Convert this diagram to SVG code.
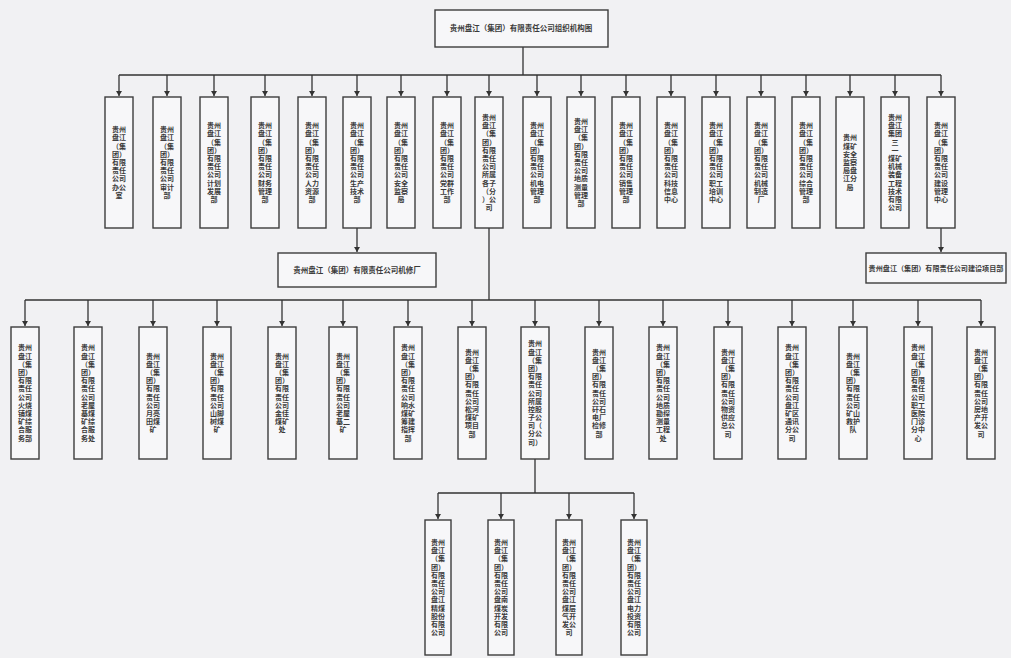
<svg xmlns="http://www.w3.org/2000/svg" width="1011" height="658" viewBox="0 0 1011 658">
<style>
.b{fill:#f7f7f9;stroke:#3c3c3c;stroke-width:1.4}
.v{font-family:"Noto Sans CJK SC","Noto Sans",sans-serif;font-size:7px;font-weight:bold;fill:#3a3a3a;text-anchor:middle}
.h{font-family:"Noto Sans CJK SC","Noto Sans",sans-serif;font-size:7.5px;font-weight:bold;fill:#3a3a3a;text-anchor:middle}
.c{fill:none;stroke:#333;stroke-width:1.3}
</style>
<defs>
<marker id="ah" markerWidth="6" markerHeight="6" refX="5" refY="3" orient="auto" markerUnits="userSpaceOnUse">
<path d="M0,0 L5,3 L0,6 z" fill="#333"/>
</marker>
</defs>
<rect width="1011" height="658" fill="#f1f1f3"/>

<g id="connectors">
<path class="c" d="M523,47 V75 M119,75 H941"/>
<path class="c" marker-end="url(#ah)" d="M119,75 V96"/>
<path class="c" marker-end="url(#ah)" d="M167,75 V96"/>
<path class="c" marker-end="url(#ah)" d="M214,75 V96"/>
<path class="c" marker-end="url(#ah)" d="M265,75 V96"/>
<path class="c" marker-end="url(#ah)" d="M312,75 V96"/>
<path class="c" marker-end="url(#ah)" d="M357,75 V96"/>
<path class="c" marker-end="url(#ah)" d="M401,75 V96"/>
<path class="c" marker-end="url(#ah)" d="M447,75 V96"/>
<path class="c" marker-end="url(#ah)" d="M489,75 V96"/>
<path class="c" marker-end="url(#ah)" d="M537,75 V96"/>
<path class="c" marker-end="url(#ah)" d="M581,75 V96"/>
<path class="c" marker-end="url(#ah)" d="M626,75 V96"/>
<path class="c" marker-end="url(#ah)" d="M671,75 V96"/>
<path class="c" marker-end="url(#ah)" d="M716,75 V96"/>
<path class="c" marker-end="url(#ah)" d="M761,75 V96"/>
<path class="c" marker-end="url(#ah)" d="M806,75 V96"/>
<path class="c" marker-end="url(#ah)" d="M850,75 V96"/>
<path class="c" marker-end="url(#ah)" d="M895,75 V96"/>
<path class="c" marker-end="url(#ah)" d="M941,75 V96"/>
<path class="c" marker-end="url(#ah)" d="M357,228 V252"/>
<path class="c" marker-end="url(#ah)" d="M941,228 V252"/>
<path class="c" d="M489,228 V300 M25,300 H981"/>
<path class="c" marker-end="url(#ah)" d="M25,300 V326"/>
<path class="c" marker-end="url(#ah)" d="M88,300 V326"/>
<path class="c" marker-end="url(#ah)" d="M153,300 V326"/>
<path class="c" marker-end="url(#ah)" d="M217,300 V326"/>
<path class="c" marker-end="url(#ah)" d="M282,300 V326"/>
<path class="c" marker-end="url(#ah)" d="M343,300 V326"/>
<path class="c" marker-end="url(#ah)" d="M408,300 V326"/>
<path class="c" marker-end="url(#ah)" d="M472,300 V326"/>
<path class="c" marker-end="url(#ah)" d="M535,300 V326"/>
<path class="c" marker-end="url(#ah)" d="M599,300 V326"/>
<path class="c" marker-end="url(#ah)" d="M663,300 V326"/>
<path class="c" marker-end="url(#ah)" d="M728,300 V326"/>
<path class="c" marker-end="url(#ah)" d="M792,300 V326"/>
<path class="c" marker-end="url(#ah)" d="M853,300 V326"/>
<path class="c" marker-end="url(#ah)" d="M918,300 V326"/>
<path class="c" marker-end="url(#ah)" d="M981,300 V326"/>
<path class="c" d="M535,459 V493 M438,493 H634"/>
<path class="c" marker-end="url(#ah)" d="M438,493 V519"/>
<path class="c" marker-end="url(#ah)" d="M501,493 V519"/>
<path class="c" marker-end="url(#ah)" d="M569,493 V519"/>
<path class="c" marker-end="url(#ah)" d="M634,493 V519"/>
</g>

<g id="n-top"><rect class="b" x="435" y="10" width="173" height="37"/><text class="h" x="521" y="31">贵州盘江（集团）有限责任公司组织机构图</text></g>

<g id="t1"><rect class="b" x="105" y="97" width="28" height="131"/><text class="v" y="132.2"><tspan x="119">贵州</tspan><tspan x="119" dy="8.2">盘江</tspan><tspan x="119" dy="8.2">（集</tspan><tspan x="119" dy="8.2">团）</tspan><tspan x="119" dy="8.2">有限</tspan><tspan x="119" dy="8.2">责任</tspan><tspan x="119" dy="8.2">公司</tspan><tspan x="119" dy="8.2">办公</tspan><tspan x="119" dy="8.2">室</tspan></text></g>
<g id="t2"><rect class="b" x="153" y="97" width="28" height="131"/><text class="v" y="132.2"><tspan x="167">贵州</tspan><tspan x="167" dy="8.2">盘江</tspan><tspan x="167" dy="8.2">（集</tspan><tspan x="167" dy="8.2">团）</tspan><tspan x="167" dy="8.2">有限</tspan><tspan x="167" dy="8.2">责任</tspan><tspan x="167" dy="8.2">公司</tspan><tspan x="167" dy="8.2">审计</tspan><tspan x="167" dy="8.2">部</tspan></text></g>
<g id="t3"><rect class="b" x="200" y="97" width="28" height="131"/><text class="v" y="128.1"><tspan x="214">贵州</tspan><tspan x="214" dy="8.2">盘江</tspan><tspan x="214" dy="8.2">（集</tspan><tspan x="214" dy="8.2">团）</tspan><tspan x="214" dy="8.2">有限</tspan><tspan x="214" dy="8.2">责任</tspan><tspan x="214" dy="8.2">公司</tspan><tspan x="214" dy="8.2">计划</tspan><tspan x="214" dy="8.2">发展</tspan><tspan x="214" dy="8.2">部</tspan></text></g>
<g id="t4"><rect class="b" x="251" y="97" width="28" height="131"/><text class="v" y="128.1"><tspan x="265">贵州</tspan><tspan x="265" dy="8.2">盘江</tspan><tspan x="265" dy="8.2">（集</tspan><tspan x="265" dy="8.2">团）</tspan><tspan x="265" dy="8.2">有限</tspan><tspan x="265" dy="8.2">责任</tspan><tspan x="265" dy="8.2">公司</tspan><tspan x="265" dy="8.2">财务</tspan><tspan x="265" dy="8.2">管理</tspan><tspan x="265" dy="8.2">部</tspan></text></g>
<g id="t5"><rect class="b" x="298" y="97" width="28" height="131"/><text class="v" y="128.1"><tspan x="312">贵州</tspan><tspan x="312" dy="8.2">盘江</tspan><tspan x="312" dy="8.2">（集</tspan><tspan x="312" dy="8.2">团）</tspan><tspan x="312" dy="8.2">有限</tspan><tspan x="312" dy="8.2">责任</tspan><tspan x="312" dy="8.2">公司</tspan><tspan x="312" dy="8.2">人力</tspan><tspan x="312" dy="8.2">资源</tspan><tspan x="312" dy="8.2">部</tspan></text></g>
<g id="t6"><rect class="b" x="343" y="97" width="28" height="131"/><text class="v" y="128.1"><tspan x="357">贵州</tspan><tspan x="357" dy="8.2">盘江</tspan><tspan x="357" dy="8.2">（集</tspan><tspan x="357" dy="8.2">团）</tspan><tspan x="357" dy="8.2">有限</tspan><tspan x="357" dy="8.2">责任</tspan><tspan x="357" dy="8.2">公司</tspan><tspan x="357" dy="8.2">生产</tspan><tspan x="357" dy="8.2">技术</tspan><tspan x="357" dy="8.2">部</tspan></text></g>
<g id="t7"><rect class="b" x="387" y="97" width="28" height="131"/><text class="v" y="128.1"><tspan x="401">贵州</tspan><tspan x="401" dy="8.2">盘江</tspan><tspan x="401" dy="8.2">（集</tspan><tspan x="401" dy="8.2">团）</tspan><tspan x="401" dy="8.2">有限</tspan><tspan x="401" dy="8.2">责任</tspan><tspan x="401" dy="8.2">公司</tspan><tspan x="401" dy="8.2">安全</tspan><tspan x="401" dy="8.2">监察</tspan><tspan x="401" dy="8.2">局</tspan></text></g>
<g id="t8"><rect class="b" x="433" y="97" width="28" height="131"/><text class="v" y="128.1"><tspan x="447">贵州</tspan><tspan x="447" dy="8.2">盘江</tspan><tspan x="447" dy="8.2">（集</tspan><tspan x="447" dy="8.2">团）</tspan><tspan x="447" dy="8.2">有限</tspan><tspan x="447" dy="8.2">责任</tspan><tspan x="447" dy="8.2">公司</tspan><tspan x="447" dy="8.2">党群</tspan><tspan x="447" dy="8.2">工作</tspan><tspan x="447" dy="8.2">部</tspan></text></g>
<g id="t9"><rect class="b" x="475" y="97" width="28" height="131"/><text class="v" y="119.9"><tspan x="489">贵州</tspan><tspan x="489" dy="8.2">盘江</tspan><tspan x="489" dy="8.2">（集</tspan><tspan x="489" dy="8.2">团）</tspan><tspan x="489" dy="8.2">有限</tspan><tspan x="489" dy="8.2">责任</tspan><tspan x="489" dy="8.2">公司</tspan><tspan x="489" dy="8.2">所属</tspan><tspan x="489" dy="8.2">各子</tspan><tspan x="489" dy="8.2">（分</tspan><tspan x="489" dy="8.2">）公</tspan><tspan x="489" dy="8.2">司</tspan></text></g>
<g id="t10"><rect class="b" x="523" y="97" width="28" height="131"/><text class="v" y="128.1"><tspan x="537">贵州</tspan><tspan x="537" dy="8.2">盘江</tspan><tspan x="537" dy="8.2">（集</tspan><tspan x="537" dy="8.2">团）</tspan><tspan x="537" dy="8.2">有限</tspan><tspan x="537" dy="8.2">责任</tspan><tspan x="537" dy="8.2">公司</tspan><tspan x="537" dy="8.2">机电</tspan><tspan x="537" dy="8.2">管理</tspan><tspan x="537" dy="8.2">部</tspan></text></g>
<g id="t11"><rect class="b" x="567" y="97" width="28" height="131"/><text class="v" y="124"><tspan x="581">贵州</tspan><tspan x="581" dy="8.2">盘江</tspan><tspan x="581" dy="8.2">（集</tspan><tspan x="581" dy="8.2">团）</tspan><tspan x="581" dy="8.2">有限</tspan><tspan x="581" dy="8.2">责任</tspan><tspan x="581" dy="8.2">公司</tspan><tspan x="581" dy="8.2">地质</tspan><tspan x="581" dy="8.2">测量</tspan><tspan x="581" dy="8.2">管理</tspan><tspan x="581" dy="8.2">部</tspan></text></g>
<g id="t12"><rect class="b" x="612" y="97" width="28" height="131"/><text class="v" y="128.1"><tspan x="626">贵州</tspan><tspan x="626" dy="8.2">盘江</tspan><tspan x="626" dy="8.2">（集</tspan><tspan x="626" dy="8.2">团）</tspan><tspan x="626" dy="8.2">有限</tspan><tspan x="626" dy="8.2">责任</tspan><tspan x="626" dy="8.2">公司</tspan><tspan x="626" dy="8.2">销售</tspan><tspan x="626" dy="8.2">管理</tspan><tspan x="626" dy="8.2">部</tspan></text></g>
<g id="t13"><rect class="b" x="657" y="97" width="28" height="131"/><text class="v" y="128.1"><tspan x="671">贵州</tspan><tspan x="671" dy="8.2">盘江</tspan><tspan x="671" dy="8.2">（集</tspan><tspan x="671" dy="8.2">团）</tspan><tspan x="671" dy="8.2">有限</tspan><tspan x="671" dy="8.2">责任</tspan><tspan x="671" dy="8.2">公司</tspan><tspan x="671" dy="8.2">科技</tspan><tspan x="671" dy="8.2">信息</tspan><tspan x="671" dy="8.2">中心</tspan></text></g>
<g id="t14"><rect class="b" x="702" y="97" width="28" height="131"/><text class="v" y="128.1"><tspan x="716">贵州</tspan><tspan x="716" dy="8.2">盘江</tspan><tspan x="716" dy="8.2">（集</tspan><tspan x="716" dy="8.2">团）</tspan><tspan x="716" dy="8.2">有限</tspan><tspan x="716" dy="8.2">责任</tspan><tspan x="716" dy="8.2">公司</tspan><tspan x="716" dy="8.2">职工</tspan><tspan x="716" dy="8.2">培训</tspan><tspan x="716" dy="8.2">中心</tspan></text></g>
<g id="t15"><rect class="b" x="747" y="97" width="28" height="131"/><text class="v" y="128.1"><tspan x="761">贵州</tspan><tspan x="761" dy="8.2">盘江</tspan><tspan x="761" dy="8.2">（集</tspan><tspan x="761" dy="8.2">团）</tspan><tspan x="761" dy="8.2">有限</tspan><tspan x="761" dy="8.2">责任</tspan><tspan x="761" dy="8.2">公司</tspan><tspan x="761" dy="8.2">机械</tspan><tspan x="761" dy="8.2">制造</tspan><tspan x="761" dy="8.2">厂</tspan></text></g>
<g id="t16"><rect class="b" x="792" y="97" width="28" height="131"/><text class="v" y="128.1"><tspan x="806">贵州</tspan><tspan x="806" dy="8.2">盘江</tspan><tspan x="806" dy="8.2">（集</tspan><tspan x="806" dy="8.2">团）</tspan><tspan x="806" dy="8.2">有限</tspan><tspan x="806" dy="8.2">责任</tspan><tspan x="806" dy="8.2">公司</tspan><tspan x="806" dy="8.2">综合</tspan><tspan x="806" dy="8.2">管理</tspan><tspan x="806" dy="8.2">部</tspan></text></g>
<g id="t17"><rect class="b" x="836" y="97" width="28" height="131"/><text class="v" y="140.4"><tspan x="850">贵州</tspan><tspan x="850" dy="8.2">煤矿</tspan><tspan x="850" dy="8.2">安全</tspan><tspan x="850" dy="8.2">监察</tspan><tspan x="850" dy="8.2">局盘</tspan><tspan x="850" dy="8.2">江分</tspan><tspan x="850" dy="8.2">局</tspan></text></g>
<g id="t18"><rect class="b" x="881" y="97" width="28" height="131"/><text class="v" y="119.9"><tspan x="895">贵州</tspan><tspan x="895" dy="8.2">盘江</tspan><tspan x="895" dy="8.2">集团</tspan><tspan x="895" dy="8.2">三</tspan><tspan x="895" dy="8.2">一</tspan><tspan x="895" dy="8.2">煤矿</tspan><tspan x="895" dy="8.2">机械</tspan><tspan x="895" dy="8.2">装备</tspan><tspan x="895" dy="8.2">工程</tspan><tspan x="895" dy="8.2">技术</tspan><tspan x="895" dy="8.2">有限</tspan><tspan x="895" dy="8.2">公司</tspan></text></g>
<g id="t19"><rect class="b" x="927" y="97" width="28" height="131"/><text class="v" y="128.1"><tspan x="941">贵州</tspan><tspan x="941" dy="8.2">盘江</tspan><tspan x="941" dy="8.2">（集</tspan><tspan x="941" dy="8.2">团）</tspan><tspan x="941" dy="8.2">有限</tspan><tspan x="941" dy="8.2">责任</tspan><tspan x="941" dy="8.2">公司</tspan><tspan x="941" dy="8.2">建设</tspan><tspan x="941" dy="8.2">管理</tspan><tspan x="941" dy="8.2">中心</tspan></text></g>

<g id="sub-a"><rect class="b" x="278" y="253" width="158" height="34"/><text class="h" x="357" y="273">贵州盘江（集团）有限责任公司机修厂</text></g>
<g id="sub-b"><rect class="b" x="866" y="253" width="140" height="30"/><text class="h" x="936" y="271" style="font-size:7.1px">贵州盘江（集团）有限责任公司建设项目部</text></g>

<g id="s1"><rect class="b" x="11" y="327" width="28" height="132"/><text class="v" y="350.4"><tspan x="25">贵州</tspan><tspan x="25" dy="8.2">盘江</tspan><tspan x="25" dy="8.2">（集</tspan><tspan x="25" dy="8.2">团）</tspan><tspan x="25" dy="8.2">有限</tspan><tspan x="25" dy="8.2">责任</tspan><tspan x="25" dy="8.2">公司</tspan><tspan x="25" dy="8.2">火烧</tspan><tspan x="25" dy="8.2">铺煤</tspan><tspan x="25" dy="8.2">矿综</tspan><tspan x="25" dy="8.2">合服</tspan><tspan x="25" dy="8.2">务部</tspan></text></g>
<g id="s2"><rect class="b" x="74" y="327" width="28" height="132"/><text class="v" y="350.4"><tspan x="88">贵州</tspan><tspan x="88" dy="8.2">盘江</tspan><tspan x="88" dy="8.2">（集</tspan><tspan x="88" dy="8.2">团）</tspan><tspan x="88" dy="8.2">有限</tspan><tspan x="88" dy="8.2">责任</tspan><tspan x="88" dy="8.2">公司</tspan><tspan x="88" dy="8.2">老屋</tspan><tspan x="88" dy="8.2">基煤</tspan><tspan x="88" dy="8.2">矿综</tspan><tspan x="88" dy="8.2">合服</tspan><tspan x="88" dy="8.2">务处</tspan></text></g>
<g id="s3"><rect class="b" x="139" y="327" width="28" height="132"/><text class="v" y="358.6"><tspan x="153">贵州</tspan><tspan x="153" dy="8.2">盘江</tspan><tspan x="153" dy="8.2">（集</tspan><tspan x="153" dy="8.2">团）</tspan><tspan x="153" dy="8.2">有限</tspan><tspan x="153" dy="8.2">责任</tspan><tspan x="153" dy="8.2">公司</tspan><tspan x="153" dy="8.2">月亮</tspan><tspan x="153" dy="8.2">田煤</tspan><tspan x="153" dy="8.2">矿</tspan></text></g>
<g id="s4"><rect class="b" x="203" y="327" width="28" height="132"/><text class="v" y="358.6"><tspan x="217">贵州</tspan><tspan x="217" dy="8.2">盘江</tspan><tspan x="217" dy="8.2">（集</tspan><tspan x="217" dy="8.2">团）</tspan><tspan x="217" dy="8.2">有限</tspan><tspan x="217" dy="8.2">责任</tspan><tspan x="217" dy="8.2">公司</tspan><tspan x="217" dy="8.2">山脚</tspan><tspan x="217" dy="8.2">树煤</tspan><tspan x="217" dy="8.2">矿</tspan></text></g>
<g id="s5"><rect class="b" x="268" y="327" width="28" height="132"/><text class="v" y="358.6"><tspan x="282">贵州</tspan><tspan x="282" dy="8.2">盘江</tspan><tspan x="282" dy="8.2">（集</tspan><tspan x="282" dy="8.2">团）</tspan><tspan x="282" dy="8.2">有限</tspan><tspan x="282" dy="8.2">责任</tspan><tspan x="282" dy="8.2">公司</tspan><tspan x="282" dy="8.2">金佳</tspan><tspan x="282" dy="8.2">煤矿</tspan><tspan x="282" dy="8.2">处</tspan></text></g>
<g id="s6"><rect class="b" x="329" y="327" width="28" height="132"/><text class="v" y="358.6"><tspan x="343">贵州</tspan><tspan x="343" dy="8.2">盘江</tspan><tspan x="343" dy="8.2">（集</tspan><tspan x="343" dy="8.2">团）</tspan><tspan x="343" dy="8.2">有限</tspan><tspan x="343" dy="8.2">责任</tspan><tspan x="343" dy="8.2">公司</tspan><tspan x="343" dy="8.2">老屋</tspan><tspan x="343" dy="8.2">基二</tspan><tspan x="343" dy="8.2">矿</tspan></text></g>
<g id="s7"><rect class="b" x="394" y="327" width="28" height="132"/><text class="v" y="350.4"><tspan x="408">贵州</tspan><tspan x="408" dy="8.2">盘江</tspan><tspan x="408" dy="8.2">（集</tspan><tspan x="408" dy="8.2">团）</tspan><tspan x="408" dy="8.2">有限</tspan><tspan x="408" dy="8.2">责任</tspan><tspan x="408" dy="8.2">公司</tspan><tspan x="408" dy="8.2">响水</tspan><tspan x="408" dy="8.2">煤矿</tspan><tspan x="408" dy="8.2">筹建</tspan><tspan x="408" dy="8.2">指挥</tspan><tspan x="408" dy="8.2">部</tspan></text></g>
<g id="s8"><rect class="b" x="458" y="327" width="28" height="132"/><text class="v" y="354.5"><tspan x="472">贵州</tspan><tspan x="472" dy="8.2">盘江</tspan><tspan x="472" dy="8.2">（集</tspan><tspan x="472" dy="8.2">团）</tspan><tspan x="472" dy="8.2">有限</tspan><tspan x="472" dy="8.2">责任</tspan><tspan x="472" dy="8.2">公司</tspan><tspan x="472" dy="8.2">松河</tspan><tspan x="472" dy="8.2">煤矿</tspan><tspan x="472" dy="8.2">项目</tspan><tspan x="472" dy="8.2">部</tspan></text></g>
<g id="s9"><rect class="b" x="521" y="327" width="28" height="132"/><text class="v" y="346.3"><tspan x="535">贵州</tspan><tspan x="535" dy="8.2">盘江</tspan><tspan x="535" dy="8.2">（集</tspan><tspan x="535" dy="8.2">团）</tspan><tspan x="535" dy="8.2">有限</tspan><tspan x="535" dy="8.2">责任</tspan><tspan x="535" dy="8.2">公司</tspan><tspan x="535" dy="8.2">所属</tspan><tspan x="535" dy="8.2">控股</tspan><tspan x="535" dy="8.2">子公</tspan><tspan x="535" dy="8.2">司（</tspan><tspan x="535" dy="8.2">分公</tspan><tspan x="535" dy="8.2">司）</tspan></text></g>
<g id="s10"><rect class="b" x="585" y="327" width="28" height="132"/><text class="v" y="354.5"><tspan x="599">贵州</tspan><tspan x="599" dy="8.2">盘江</tspan><tspan x="599" dy="8.2">（集</tspan><tspan x="599" dy="8.2">团）</tspan><tspan x="599" dy="8.2">有限</tspan><tspan x="599" dy="8.2">责任</tspan><tspan x="599" dy="8.2">公司</tspan><tspan x="599" dy="8.2">矸石</tspan><tspan x="599" dy="8.2">电厂</tspan><tspan x="599" dy="8.2">检修</tspan><tspan x="599" dy="8.2">部</tspan></text></g>
<g id="s11"><rect class="b" x="649" y="327" width="28" height="132"/><text class="v" y="350.4"><tspan x="663">贵州</tspan><tspan x="663" dy="8.2">盘江</tspan><tspan x="663" dy="8.2">（集</tspan><tspan x="663" dy="8.2">团）</tspan><tspan x="663" dy="8.2">有限</tspan><tspan x="663" dy="8.2">责任</tspan><tspan x="663" dy="8.2">公司</tspan><tspan x="663" dy="8.2">地质</tspan><tspan x="663" dy="8.2">勘探</tspan><tspan x="663" dy="8.2">测量</tspan><tspan x="663" dy="8.2">工程</tspan><tspan x="663" dy="8.2">处</tspan></text></g>
<g id="s12"><rect class="b" x="714" y="327" width="28" height="132"/><text class="v" y="354.5"><tspan x="728">贵州</tspan><tspan x="728" dy="8.2">盘江</tspan><tspan x="728" dy="8.2">（集</tspan><tspan x="728" dy="8.2">团）</tspan><tspan x="728" dy="8.2">有限</tspan><tspan x="728" dy="8.2">责任</tspan><tspan x="728" dy="8.2">公司</tspan><tspan x="728" dy="8.2">物资</tspan><tspan x="728" dy="8.2">供应</tspan><tspan x="728" dy="8.2">总公</tspan><tspan x="728" dy="8.2">司</tspan></text></g>
<g id="s13"><rect class="b" x="778" y="327" width="28" height="132"/><text class="v" y="350.4"><tspan x="792">贵州</tspan><tspan x="792" dy="8.2">盘江</tspan><tspan x="792" dy="8.2">（集</tspan><tspan x="792" dy="8.2">团）</tspan><tspan x="792" dy="8.2">有限</tspan><tspan x="792" dy="8.2">责任</tspan><tspan x="792" dy="8.2">公司</tspan><tspan x="792" dy="8.2">盘江</tspan><tspan x="792" dy="8.2">矿区</tspan><tspan x="792" dy="8.2">通讯</tspan><tspan x="792" dy="8.2">分公</tspan><tspan x="792" dy="8.2">司</tspan></text></g>
<g id="s14"><rect class="b" x="839" y="327" width="28" height="132"/><text class="v" y="358.6"><tspan x="853">贵州</tspan><tspan x="853" dy="8.2">盘江</tspan><tspan x="853" dy="8.2">（集</tspan><tspan x="853" dy="8.2">团）</tspan><tspan x="853" dy="8.2">有限</tspan><tspan x="853" dy="8.2">责任</tspan><tspan x="853" dy="8.2">公司</tspan><tspan x="853" dy="8.2">矿山</tspan><tspan x="853" dy="8.2">救护</tspan><tspan x="853" dy="8.2">队</tspan></text></g>
<g id="s15"><rect class="b" x="904" y="327" width="28" height="132"/><text class="v" y="350.4"><tspan x="918">贵州</tspan><tspan x="918" dy="8.2">盘江</tspan><tspan x="918" dy="8.2">（集</tspan><tspan x="918" dy="8.2">团）</tspan><tspan x="918" dy="8.2">有限</tspan><tspan x="918" dy="8.2">责任</tspan><tspan x="918" dy="8.2">公司</tspan><tspan x="918" dy="8.2">职工</tspan><tspan x="918" dy="8.2">医院</tspan><tspan x="918" dy="8.2">门诊</tspan><tspan x="918" dy="8.2">分中</tspan><tspan x="918" dy="8.2">心</tspan></text></g>
<g id="s16"><rect class="b" x="967" y="327" width="28" height="132"/><text class="v" y="354.5"><tspan x="981">贵州</tspan><tspan x="981" dy="8.2">盘江</tspan><tspan x="981" dy="8.2">（集</tspan><tspan x="981" dy="8.2">团）</tspan><tspan x="981" dy="8.2">有限</tspan><tspan x="981" dy="8.2">责任</tspan><tspan x="981" dy="8.2">公司</tspan><tspan x="981" dy="8.2">房地</tspan><tspan x="981" dy="8.2">产开</tspan><tspan x="981" dy="8.2">发公</tspan><tspan x="981" dy="8.2">司</tspan></text></g>

<g id="r1"><rect class="b" x="425" y="520" width="26" height="135"/><text class="v" y="544.9"><tspan x="438">贵州</tspan><tspan x="438" dy="8.2">盘江</tspan><tspan x="438" dy="8.2">（集</tspan><tspan x="438" dy="8.2">团）</tspan><tspan x="438" dy="8.2">有限</tspan><tspan x="438" dy="8.2">责任</tspan><tspan x="438" dy="8.2">公司</tspan><tspan x="438" dy="8.2">盘江</tspan><tspan x="438" dy="8.2">精煤</tspan><tspan x="438" dy="8.2">股份</tspan><tspan x="438" dy="8.2">有限</tspan><tspan x="438" dy="8.2">公司</tspan></text></g>
<g id="r2"><rect class="b" x="488" y="520" width="26" height="135"/><text class="v" y="544.9"><tspan x="501">贵州</tspan><tspan x="501" dy="8.2">盘江</tspan><tspan x="501" dy="8.2">（集</tspan><tspan x="501" dy="8.2">团）</tspan><tspan x="501" dy="8.2">有限</tspan><tspan x="501" dy="8.2">责任</tspan><tspan x="501" dy="8.2">公司</tspan><tspan x="501" dy="8.2">盘南</tspan><tspan x="501" dy="8.2">煤炭</tspan><tspan x="501" dy="8.2">开发</tspan><tspan x="501" dy="8.2">有限</tspan><tspan x="501" dy="8.2">公司</tspan></text></g>
<g id="r3"><rect class="b" x="556" y="520" width="26" height="135"/><text class="v" y="544.9"><tspan x="569">贵州</tspan><tspan x="569" dy="8.2">盘江</tspan><tspan x="569" dy="8.2">（集</tspan><tspan x="569" dy="8.2">团）</tspan><tspan x="569" dy="8.2">有限</tspan><tspan x="569" dy="8.2">责任</tspan><tspan x="569" dy="8.2">公司</tspan><tspan x="569" dy="8.2">盘江</tspan><tspan x="569" dy="8.2">煤层</tspan><tspan x="569" dy="8.2">气开</tspan><tspan x="569" dy="8.2">发公</tspan><tspan x="569" dy="8.2">司</tspan></text></g>
<g id="r4"><rect class="b" x="621" y="520" width="26" height="135"/><text class="v" y="544.9"><tspan x="634">贵州</tspan><tspan x="634" dy="8.2">盘江</tspan><tspan x="634" dy="8.2">（集</tspan><tspan x="634" dy="8.2">团）</tspan><tspan x="634" dy="8.2">有限</tspan><tspan x="634" dy="8.2">责任</tspan><tspan x="634" dy="8.2">公司</tspan><tspan x="634" dy="8.2">盘江</tspan><tspan x="634" dy="8.2">电力</tspan><tspan x="634" dy="8.2">投资</tspan><tspan x="634" dy="8.2">有限</tspan><tspan x="634" dy="8.2">公司</tspan></text></g>
</svg>
